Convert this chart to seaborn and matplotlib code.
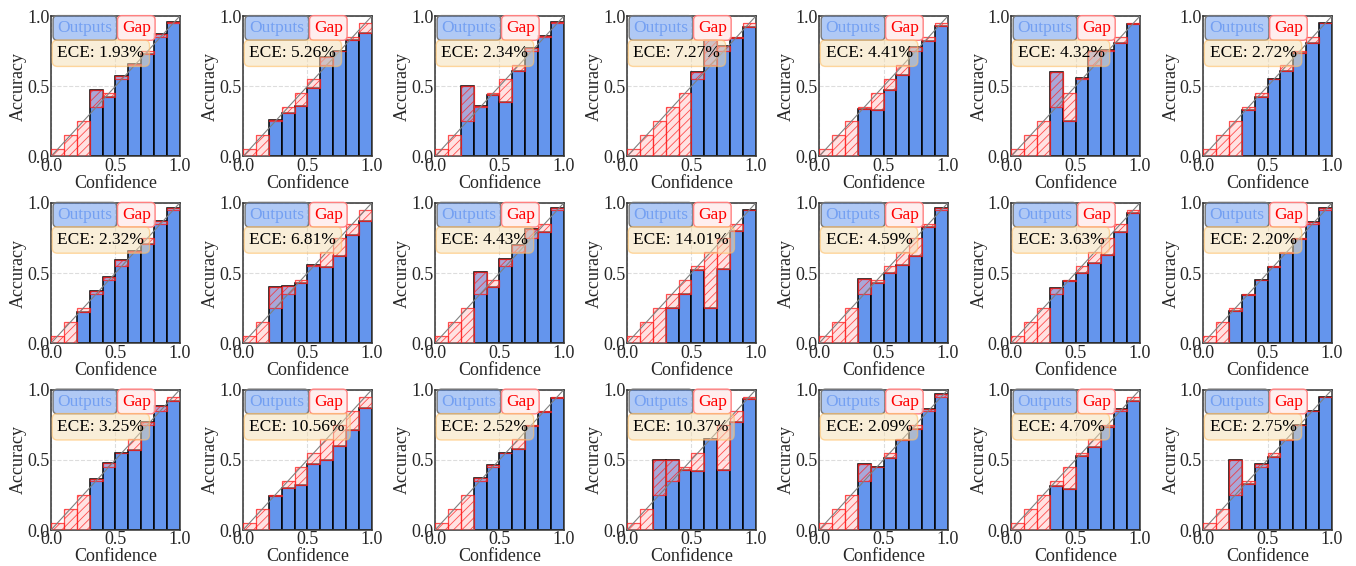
import numpy as np
import seaborn as sns
import matplotlib
matplotlib.use("Agg")
import matplotlib.pyplot as plt

# bin centers (10 equal bins)
bin_centers = [0.05, 0.15, 0.25, 0.35, 0.45, 0.55, 0.65, 0.75, 0.85, 0.95]

# accuracy per bin for each panel, read row by row (0 = empty bin)
acc_r1c1 = [0, 0, 0, 0.47, 0.42, 0.57, 0.66, 0.73, 0.87, 0.96]
acc_r1c2 = [0, 0, 0.26, 0.31, 0.36, 0.49, 0.71, 0.75, 0.83, 0.88]
acc_r1c3 = [0, 0, 0.50, 0.36, 0.44, 0.39, 0.61, 0.77, 0.86, 0.96]
acc_r1c4 = [0, 0, 0, 0, 0, 0.60, 0.83, 0.79, 0.84, 0.92]
acc_r1c5 = [0, 0, 0, 0.34, 0.33, 0.47, 0.58, 0.78, 0.82, 0.93]
acc_r1c6 = [0, 0, 0, 0.60, 0.25, 0.56, 0.75, 0.76, 0.81, 0.94]
acc_r1c7 = [0, 0, 0, 0.33, 0.42, 0.55, 0.61, 0.74, 0.81, 0.95]

acc_r2c1 = [0, 0, 0.22, 0.37, 0.47, 0.59, 0.66, 0.71, 0.87, 0.96]
acc_r2c2 = [0, 0, 0.40, 0.41, 0.43, 0.56, 0.54, 0.62, 0.77, 0.87]
acc_r2c3 = [0, 0, 0, 0.51, 0.40, 0.60, 0.70, 0.81, 0.79, 0.96]
acc_r2c4 = [0, 0, 0, 0.25, 0.35, 0.52, 0.25, 0.53, 0.80, 0.95]
acc_r2c5 = [0, 0, 0, 0.46, 0.43, 0.50, 0.56, 0.62, 0.83, 0.96]
acc_r2c6 = [0, 0, 0, 0.39, 0.44, 0.50, 0.57, 0.63, 0.79, 0.93]
acc_r2c7 = [0, 0, 0.23, 0.34, 0.45, 0.54, 0.64, 0.74, 0.86, 0.96]

acc_r3c1 = [0, 0, 0, 0.36, 0.48, 0.55, 0.57, 0.77, 0.88, 0.92]
acc_r3c2 = [0, 0, 0.24, 0.30, 0.32, 0.47, 0.50, 0.60, 0.71, 0.87]
acc_r3c3 = [0, 0, 0, 0.37, 0.46, 0.55, 0.58, 0.74, 0.84, 0.94]
acc_r3c4 = [0, 0, 0.50, 0.50, 0.43, 0.42, 0.65, 0.43, 0.77, 0.93]
acc_r3c5 = [0, 0, 0, 0.47, 0.45, 0.51, 0.64, 0.72, 0.86, 0.97]
acc_r3c6 = [0, 0, 0, 0.31, 0.29, 0.53, 0.59, 0.73, 0.86, 0.92]
acc_r3c7 = [0, 0, 0.50, 0.33, 0.47, 0.52, 0.64, 0.75, 0.85, 0.95]

ece_labels = ["1.93%", "5.26%", "2.34%", "7.27%", "4.41%", "4.32%", "2.72%",
              "2.32%", "6.81%", "4.43%", "14.01%", "4.59%", "3.63%", "2.20%",
              "3.25%", "10.56%", "2.52%", "10.37%", "2.09%", "4.70%", "2.75%"]

all_acc = [acc_r1c1, acc_r1c2, acc_r1c3, acc_r1c4, acc_r1c5, acc_r1c6, acc_r1c7,
           acc_r2c1, acc_r2c2, acc_r2c3, acc_r2c4, acc_r2c5, acc_r2c6, acc_r2c7,
           acc_r3c1, acc_r3c2, acc_r3c3, acc_r3c4, acc_r3c5, acc_r3c6, acc_r3c7]

sns.set_style("white")
plt.rcParams['font.family'] = ['Liberation Serif', 'DejaVu Serif']
plt.rcParams['hatch.linewidth'] = 0.6

fig, axes = plt.subplots(3, 7, figsize=(13.56, 5.66), dpi=100)
fig.subplots_adjust(left=0.0376, right=0.9823, top=0.9717, bottom=0.0636,
                    wspace=0.49, hspace=0.33)

centers = np.array(bin_centers)
for i, ax in enumerate(axes.flat):
    acc = np.array(all_acc[i])
    gap = centers - acc
    ax.grid(True, ls='--', color='#dddddd', lw=0.8)
    ax.set_axisbelow(True)
    ax.bar(centers, acc, width=0.1, color='cornflowerblue', edgecolor='black',
           linewidth=1.1, zorder=2)
    ax.bar(centers, gap, bottom=acc, width=0.1, color=(1, 0.75, 0.75, 0.45),
           edgecolor=(1, 0.1, 0.1, 0.75), hatch='////', linewidth=0.9, zorder=3)
    ax.plot([0, 1], [0, 1], color='gray', lw=0.8, zorder=4)
    ax.set_xlim(0, 1)
    ax.set_ylim(0, 1)
    ax.set_xticks([0, 0.5, 1.0])
    ax.set_yticks([0, 0.5, 1.0])
    ax.set_xticklabels(["0.0", "0.5", "1.0"])
    ax.set_yticklabels(["0.0", "0.5", "1.0"])
    ax.tick_params(length=0, pad=1, labelsize=13)
    ax.set_xlabel("Confidence", fontsize=13, labelpad=0)
    ax.set_ylabel("Accuracy", fontsize=13, labelpad=0)
    for s in ax.spines.values():
        s.set_color('#333333')
        s.set_linewidth(1.1)

    ax.text(0.05, 0.915, "Outputs", transform=ax.transAxes, fontsize=12.5,
            color='#74a0f2', va='center', ha='left', zorder=6,
            bbox=dict(boxstyle='round,pad=0.25', fc=(0.39, 0.58, 0.93, 0.5),
                      ec='#777777', lw=1))
    ax.text(0.55, 0.915, "Gap", transform=ax.transAxes, fontsize=12.5,
            color='red', va='center', ha='left', zorder=6,
            bbox=dict(boxstyle='round,pad=0.25', fc=(1, 0.93, 0.93, 0.9),
                      ec=(1, 0.5, 0.5), lw=1))
    ax.text(0.05, 0.735, "ECE: " + ece_labels[i], transform=ax.transAxes,
            fontsize=12.5, color='black', va='center', ha='left', zorder=6,
            bbox=dict(boxstyle='round,pad=0.3', fc=(0.96, 0.87, 0.7, 0.5),
                      ec=(1, 0.75, 0.4, 0.6), lw=1))

fig.savefig("out.png", dpi=100)
